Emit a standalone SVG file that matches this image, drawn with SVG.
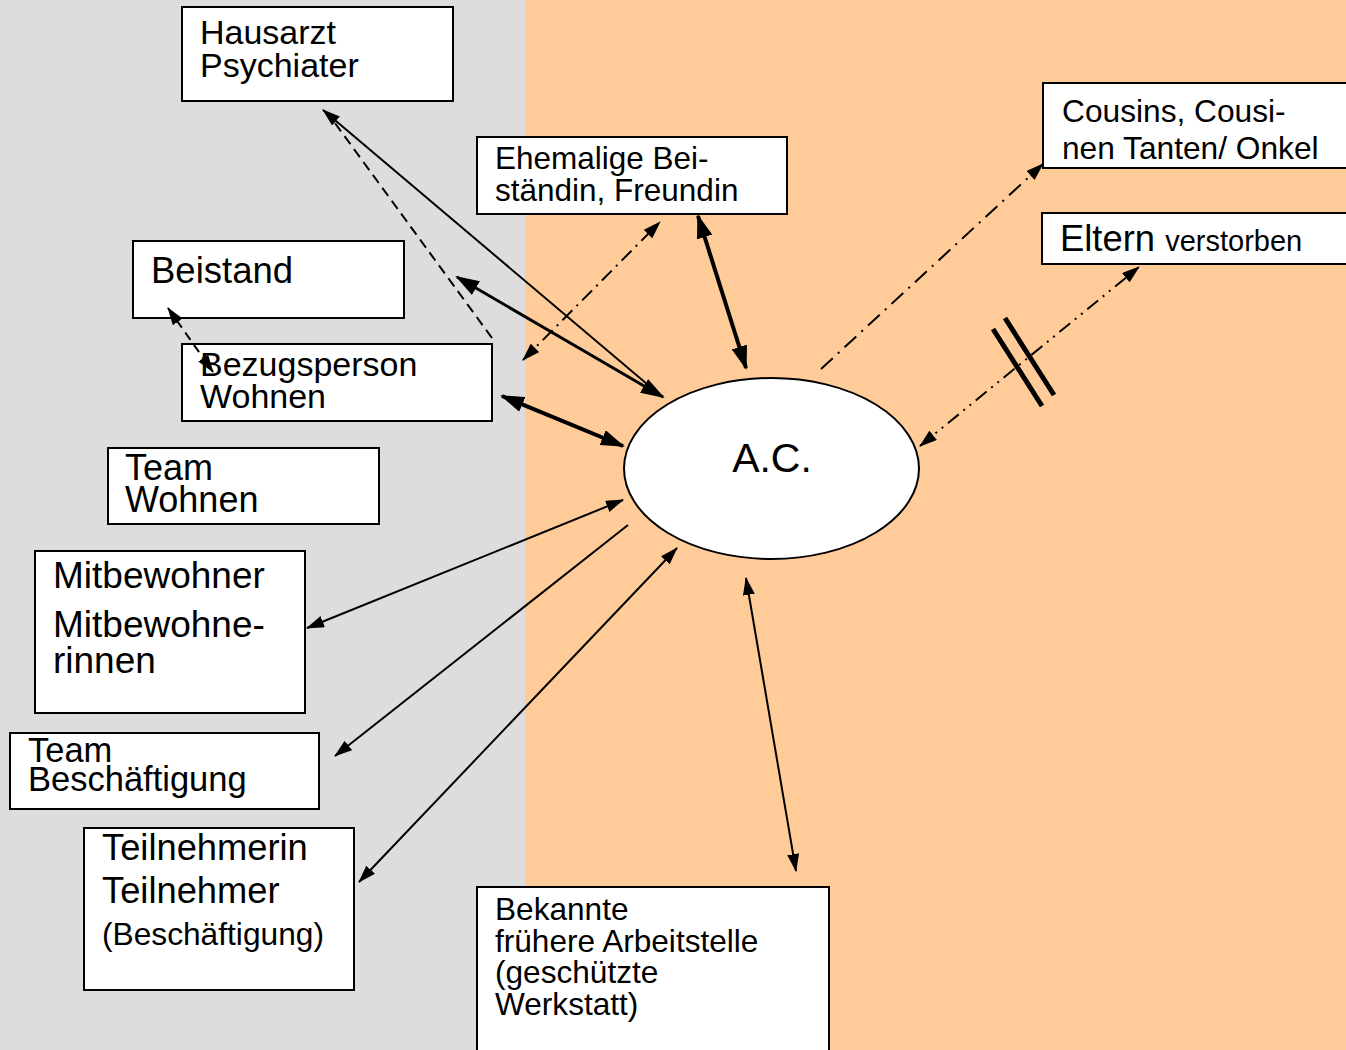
<svg xmlns="http://www.w3.org/2000/svg" width="1346" height="1050" viewBox="0 0 1346 1050">
<style>
.box{fill:#fff;stroke:#000;stroke-width:2}
.t{font-family:"Liberation Sans",Arial,sans-serif;fill:#000}
.ln{fill:none;stroke:#000}
</style>
<defs>
<marker id="a" viewBox="0 0 18 12" markerWidth="18" markerHeight="12" refX="17" refY="6" orient="auto-start-reverse" markerUnits="userSpaceOnUse"><path d="M0,0 L18,6 L0,12 z" fill="#000"/></marker>
<marker id="b" viewBox="0 0 24 16" markerWidth="24" markerHeight="16" refX="22" refY="8" orient="auto-start-reverse" markerUnits="userSpaceOnUse"><path d="M0,0 L24,8 L0,16 z" fill="#000"/></marker>
</defs>
<rect x="0" y="0" width="525" height="1050" fill="#DDDDDD"/>
<rect x="525" y="0" width="821" height="1050" fill="#FFCC99"/>

<g id="hausarzt">
<rect class="box" x="182" y="7" width="271" height="94"/>
<text class="t" x="200" y="44" font-size="34">Hausarzt</text>
<text class="t" x="200" y="77" font-size="34">Psychiater</text>
</g>
<g id="ehemalige">
<rect class="box" x="477" y="137" width="310" height="77"/>
<text class="t" x="495" y="169" font-size="31.5">Ehemalige Bei-</text>
<text class="t" x="495" y="201" font-size="31.5">ständin, Freundin</text>
</g>
<g id="beistand">
<rect class="box" x="133" y="241" width="271" height="77"/>
<text class="t" x="151" y="283" font-size="36.5">Beistand</text>
</g>
<g id="bezugsperson">
<rect class="box" x="182" y="344" width="310" height="77"/>
<text class="t" x="200" y="376" font-size="34">Bezugsperson</text>
<text class="t" x="200" y="408" font-size="34">Wohnen</text>
</g>
<g id="teamwohnen">
<rect class="box" x="108" y="448" width="271" height="76"/>
<text class="t" x="125" y="480" font-size="36">Team</text>
<text class="t" x="125" y="512" font-size="36">Wohnen</text>
</g>
<g id="mitbewohner">
<rect class="box" x="35" y="551" width="270" height="162"/>
<text class="t" x="53" y="588" font-size="37">Mitbewohner</text>
<text class="t" x="53" y="637" font-size="37">Mitbewohne-</text>
<text class="t" x="53" y="673" font-size="37">rinnen</text>
</g>
<g id="teambeschaeftigung">
<rect class="box" x="10" y="733" width="309" height="76"/>
<text class="t" x="28" y="762" font-size="34.5">Team</text>
<text class="t" x="28" y="791" font-size="34.5">Beschäftigung</text>
</g>
<g id="teilnehmer">
<rect class="box" x="84" y="828" width="270" height="162"/>
<text class="t" x="102" y="860" font-size="36.3">Teilnehmerin</text>
<text class="t" x="102" y="903" font-size="36.3">Teilnehmer</text>
<text class="t" x="102" y="945" font-size="31.7">(Beschäftigung)</text>
</g>
<g id="bekannte">
<rect class="box" x="477" y="887" width="352" height="175"/>
<text class="t" x="495" y="920" font-size="31.6">Bekannte</text>
<text class="t" x="495" y="952" font-size="31.6">frühere Arbeitstelle</text>
<text class="t" x="495" y="983" font-size="31.6">(geschützte</text>
<text class="t" x="495" y="1015" font-size="31.6">Werkstatt)</text>
</g>
<g id="cousins">
<rect class="box" x="1043" y="83" width="320" height="85"/>
<text class="t" x="1062" y="122" font-size="31.7">Cousins, Cousi-</text>
<text class="t" x="1062" y="159" font-size="31.7">nen Tanten/ Onkel</text>
</g>
<g id="eltern">
<rect class="box" x="1042" y="213" width="320" height="51"/>
<text class="t" x="1060" y="251" font-size="36.4">Eltern <tspan font-size="29">verstorben</tspan></text>
</g>
<g id="ac">
<ellipse cx="771.5" cy="468.5" rx="147.5" ry="90.5" fill="#fff" stroke="#000" stroke-width="2"/>
<text class="t" x="772" y="472" font-size="41" text-anchor="middle">A.C.</text>
</g>

<g id="connectors">
<line class="ln" x1="660" y1="395" x2="323" y2="110" stroke-width="2" marker-end="url(#a)"/>
<line class="ln" x1="492" y1="338" x2="332" y2="119" stroke-width="2" stroke-dasharray="10,6"/>
<line class="ln" x1="457" y1="277" x2="663" y2="397" stroke-width="3" marker-start="url(#b)" marker-end="url(#b)"/>
<line class="ln" x1="523" y1="360" x2="660" y2="222" stroke-width="2" stroke-dasharray="14,6,2,6" marker-start="url(#a)" marker-end="url(#a)"/>
<line class="ln" x1="698" y1="216" x2="746" y2="368" stroke-width="4" marker-start="url(#b)" marker-end="url(#b)"/>
<line class="ln" x1="502" y1="396" x2="623" y2="446" stroke-width="4" marker-start="url(#b)" marker-end="url(#b)"/>
<line class="ln" x1="168" y1="308" x2="213" y2="372" stroke-width="2" stroke-dasharray="9,6" marker-start="url(#a)" marker-end="url(#a)"/>
<line class="ln" x1="623" y1="500" x2="307" y2="628" stroke-width="2" marker-start="url(#a)" marker-end="url(#a)"/>
<line class="ln" x1="628" y1="525" x2="335" y2="756" stroke-width="2" marker-end="url(#a)"/>
<line class="ln" x1="677" y1="548" x2="359" y2="882" stroke-width="2" marker-start="url(#a)" marker-end="url(#a)"/>
<line class="ln" x1="746" y1="578" x2="796" y2="871" stroke-width="2" marker-start="url(#a)" marker-end="url(#a)"/>
<line class="ln" x1="821" y1="369" x2="1043" y2="164" stroke-width="2" stroke-dasharray="16,7,2,7" marker-end="url(#a)"/>
<line class="ln" x1="920" y1="446" x2="1139" y2="267" stroke-width="2" stroke-dasharray="14,6,2,6,2,6" marker-start="url(#a)" marker-end="url(#a)"/>
<line class="ln" x1="993" y1="329" x2="1042" y2="406" stroke-width="5"/>
<line class="ln" x1="1005" y1="318" x2="1054" y2="395" stroke-width="5"/>
</g>
</svg>
